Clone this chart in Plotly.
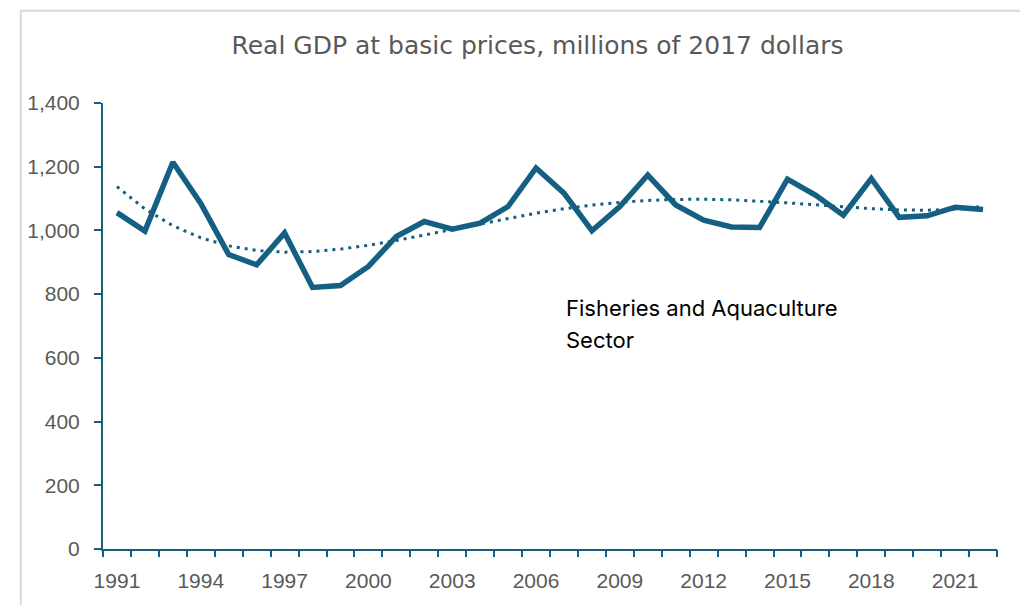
import numpy as np
import plotly.graph_objects as go

# Real GDP at basic prices, Fisheries and Aquaculture sector (millions of 2017 dollars)
years = list(range(1991, 2023))
gdp = [1056, 998, 1214, 1085, 924, 892, 992, 821, 827, 887,
       981, 1028, 1004, 1023, 1075, 1196, 1117, 999, 1075, 1174,
       1080, 1032, 1011, 1009, 1161, 1111, 1048, 1163, 1041, 1046,
       1073, 1066]
tick_years = list(range(1991, 2022, 3))
y_ticks = [0, 200, 400, 600, 800, 1000, 1200, 1400]

LINE = "#156082"
GREY = "#595959"
TICK_FONT = dict(family="Liberation Sans", size=21, color=GREY)

# 4th-order polynomial trendline fitted to the series
x = np.array(years, dtype=float)
y = np.array(gdp, dtype=float)
t = x - x.mean()
trend = np.polyval(np.polyfit(t, y, 4), t)

fig = go.Figure()
fig.add_trace(go.Scatter(x=years, y=gdp, mode="lines",
                         line=dict(color=LINE, width=5.5), showlegend=False))
fig.add_trace(go.Scatter(x=years, y=trend, mode="lines",
                         line=dict(color=LINE, width=3, dash="3px,5px"),
                         showlegend=False))

# invisible trace on the overlay axis that carries the boundary tick marks
fig.add_trace(go.Scatter(x=[years[0]], y=[None], xaxis="x2", showlegend=False,
                         hoverinfo="skip"))

xr = [years[0] - 0.5, years[-1] + 0.5]
fig.update_layout(
    width=1020, height=605,
    margin=dict(l=103, r=23, t=103, b=56),
    paper_bgcolor="white", plot_bgcolor="white",
    title=dict(text="Real GDP at basic prices, millions of 2017 dollars",
               x=0.527, xanchor="center", y=0.925, yanchor="middle",
               font=dict(family="DejaVu Sans", size=25, color=GREY)),
    xaxis=dict(range=xr, tickvals=tick_years, ticktext=[str(v) for v in tick_years],
               ticks="outside", ticklen=12, tickcolor="rgba(0,0,0,0)",
               showline=True, linecolor=LINE, linewidth=1.5, showgrid=False,
               zeroline=False, tickfont=TICK_FONT),
    xaxis2=dict(range=xr, overlaying="x", anchor="y", side="bottom",
                tickvals=[v - 0.5 for v in years] + [years[-1] + 0.5],
                ticks="outside", ticklen=7, tickwidth=2, tickcolor=LINE,
                showticklabels=False, showgrid=False, zeroline=False),
    yaxis=dict(range=[0, 1400], tickvals=y_ticks, tickformat=",",
               ticks="outside", ticklen=7, tickwidth=2, tickcolor=LINE,
               showline=True, linecolor=LINE, linewidth=2, showgrid=False,
               zeroline=False, ticklabelstandoff=10, tickfont=TICK_FONT),
    annotations=[
        dict(text="Fisheries and Aquaculture", x=2007.0, y=756, xref="x", yref="y",
             xanchor="left", yanchor="middle", showarrow=False,
             font=dict(family="Inter", size=22, color="black")),
        dict(text="Sector", x=2007.0, y=656, xref="x", yref="y",
             xanchor="left", yanchor="middle", showarrow=False,
             font=dict(family="Inter", size=22, color="black")),
    ],
    shapes=[dict(type="rect", xref="paper", yref="paper", x0=-0.092, x1=1.1,
                 y0=-0.2, y1=1.207, line=dict(color="#d9d9d9", width=2),
                 layer="below")],
)

fig.write_html("out.html")
